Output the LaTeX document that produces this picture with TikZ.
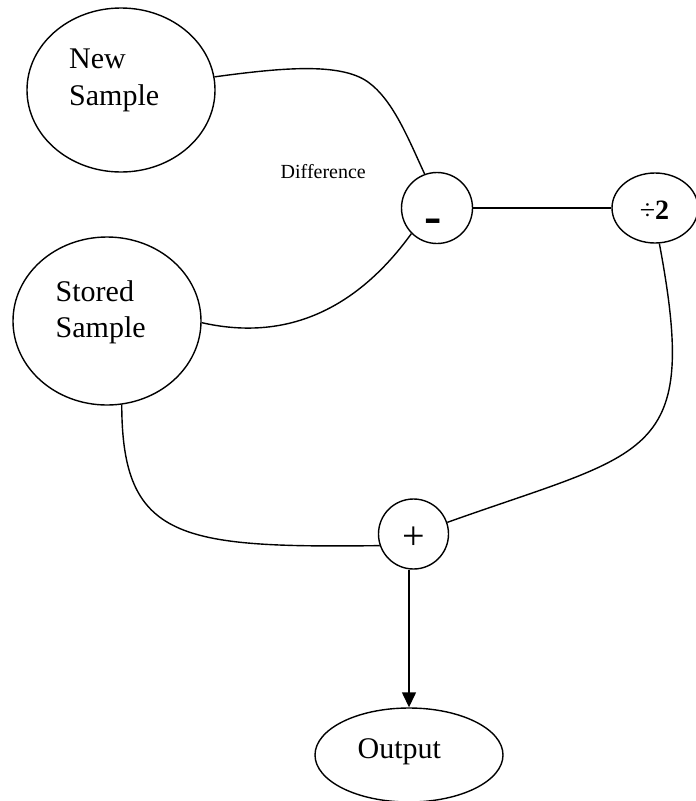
\documentclass[tikz,border=0pt]{standalone}
\usepackage{fontspec}
\setmainfont{Liberation Serif}
\usetikzlibrary{shapes.geometric,arrows.meta}
\begin{document}
\begin{tikzpicture}[x=1pt,y=-1pt,line width=1.4pt,
  oval/.style={draw, ellipse, inner sep=0pt},
  ring/.style={draw, circle, inner sep=0pt},
  big/.style={font=\fontsize{30}{36}\selectfont, inner sep=0pt, anchor=base west}]
\useasboundingbox (0,0) rectangle (696,801);
\clip (0,0) rectangle (696,801);
\fill[white] (0,0) rectangle (696,801);

% shapes
\node[oval, minimum width=188pt, minimum height=164pt] (new) at (121,90) {};
\node[oval, minimum width=188pt, minimum height=168pt] (stored) at (107,321) {};
\node[ring, minimum size=71pt] (minus) at (437,208) {};
\node[oval, minimum width=86pt, minimum height=70pt] (div) at (655,208) {};
\node[ring, minimum size=70pt] (plus) at (413.5,534) {};
\node[oval, minimum width=188pt, minimum height=94pt] (out) at (409,755) {};

% texts
\node[big] (tnew) at (68.5,68.3) {New};
\node[big] (tnews) at (68.5,105) {Sample};
\node[big] (tst) at (55,301.7) {Stored};
\node[big] (tsts) at (55,337.3) {Sample};
\node[anchor=base west, inner sep=0pt, font=\fontsize{20}{24}\selectfont] (tdiff) at (280,178.3) {Difference};
\node[anchor=base, inner sep=0pt, font=\fontsize{52}{60}\selectfont\bfseries] (tminus) at (433.5,233) {-};
\node[anchor=base, inner sep=0pt, font=\fontsize{28}{34}\selectfont] (tdiv) at (654.5,219) {÷\textbf{2}};
\node[anchor=base, inner sep=0pt, font=\fontsize{40}{48}\selectfont] (tplus) at (414,549) {+};
\node[big] (tout) at (357,758) {Output};

% connectors
\draw (new.8) .. controls (280,68) and (340,62) .. (368,82)
      .. controls (393,100) and (408,138) .. (minus.110);
\draw (stored.-1) .. controls (300,345) and (367,295) .. (minus.225);
\draw (minus.east) -- (div.west);
\draw (div.-83) .. controls (700,460) and (650,450) .. (plus.19);
\draw (stored.-80) .. controls (122,540) and (180,548) .. (plus.199);
\draw[-{Triangle[width=14pt,length=15pt]}] (out.north |- plus.south) -- (out.north);
\end{tikzpicture}
\end{document}
